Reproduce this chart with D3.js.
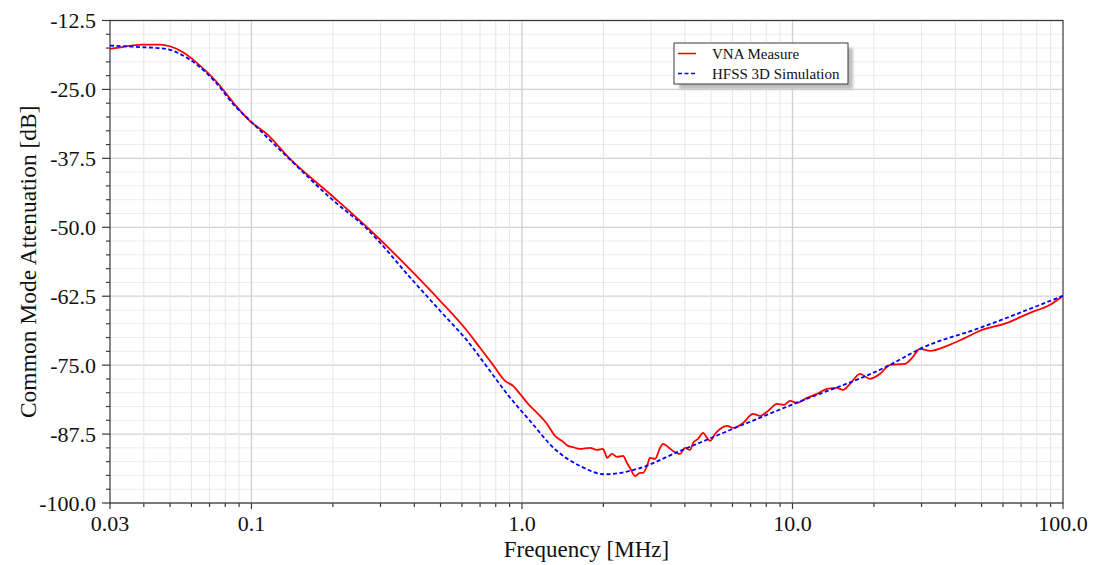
<!DOCTYPE html>
<html>
<head>
<meta charset="utf-8">
<script src="https://cdn.jsdelivr.net/npm/d3@7"></script>
<style>
  body { margin: 0; background: #fff; }
  text { font-family: "Liberation Serif", "Times New Roman", serif; fill: #111; }
</style>
</head>
<body>
<svg id="chart" width="1098" height="565"></svg>
<script>
// Measured common mode attenuation (VNA)
const vnaFreq = [0.0300, 0.03408, 0.03973, 0.04591, 0.0500, 0.05585, 0.06453, 0.07459, 0.08545, 0.09879,
  0.1142, 0.1389, 0.1952, 0.2744, 0.3956, 0.4980, 0.6263, 0.6997, 0.7816, 0.8659,
  0.9266, 0.9836, 1.053, 1.137, 1.238, 1.325, 1.406, 1.480, 1.531, 1.639,
  1.785, 1.894, 1.994, 2.028, 2.063, 2.152, 2.246, 2.364, 2.446, 2.509,
  2.618, 2.731, 2.802, 2.899, 2.974, 3.104, 3.239, 3.323, 3.467, 3.618,
  3.840, 4.007, 4.181, 4.290, 4.477, 4.671, 4.833, 4.958, 5.174, 5.398,
  5.730, 6.030, 6.565, 7.150, 7.590, 8.122, 8.768, 9.307, 9.795, 10.39,
  11.32, 12.33, 13.42, 14.61, 15.38, 16.32, 17.77, 19.35, 21.08, 22.94,
  26.07, 27.67, 29.62, 32.25, 37.27, 43.45, 49.36, 62.13, 75.53, 89.56, 100];
const vnaDb = [-17.64, -17.22, -16.86, -16.86, -17.17, -18.25, -20.67, -23.70, -27.33, -30.74,
  -33.10, -37.61, -43.96, -50.49, -58.19, -63.33, -68.77, -71.86, -74.95, -77.86,
  -78.76, -80.21, -82.03, -83.66, -85.66, -87.84, -88.74, -89.65, -89.83, -90.20,
  -90.01, -90.38, -90.20, -90.92, -91.83, -91.10, -91.65, -91.47, -92.74, -93.65,
  -95.10, -94.55, -94.55, -93.28, -91.83, -92.01, -90.01, -89.29, -89.83, -90.56,
  -91.10, -90.01, -90.38, -89.11, -88.38, -87.29, -88.20, -88.74, -87.47, -86.57,
  -86.02, -86.38, -85.48, -83.84, -84.20, -83.30, -82.03, -82.21, -81.48, -81.85,
  -80.94, -80.21, -79.31, -79.12, -79.49, -78.40, -76.58, -77.49, -76.58, -74.95,
  -74.77, -73.68, -72.04, -72.40, -71.50, -70.05, -68.77, -67.32, -65.51, -64.05, -62.42];

// Simulated common mode attenuation (HFSS 3D)
const hfssFreq = [0.0300, 0.03973, 0.04591, 0.0500, 0.05585, 0.06453, 0.07459, 0.08545, 0.09879, 0.1389,
  0.1952, 0.2675, 0.3956, 0.4980, 0.6427, 0.7427, 0.9033, 1.071, 1.325, 1.639,
  2.028, 2.662, 3.840, 5.398, 6.399, 10.05, 22.94, 29.62, 49.36, 100];
const hfssDb = [-17.04, -17.35, -17.53, -17.82, -18.85, -20.98, -23.99, -27.62, -30.65, -37.73,
  -44.63, -50.31, -59.70, -65.14, -71.20, -75.32, -80.88, -85.11, -90.25, -93.28,
  -94.79, -93.83, -90.56, -87.53, -86.02, -82.08, -74.95, -72.04, -68.23, -62.42];

const xTickValues = [0.03, 0.1, 1, 10, 100];
const xTickLabels = ["0.03", "0.1", "1.0", "10.0", "100.0"];
const yTickValues = [-100, -87.5, -75, -62.5, -50, -37.5, -25, -12.5];
const yTickLabels = ["-100.0", "-87.5", "-75.0", "-62.5", "-50.0", "-37.5", "-25.0", "-12.5"];
const seriesNames = ["VNA Measure", "HFSS 3D Simulation"];
const seriesColors = ["#ff0000", "#0000ff"];

const margin = { left: 110, right: 1063, top: 20.5, bottom: 503 };
const svg = d3.select("#chart");

const x = d3.scaleLog().domain([0.03, 100]).range([margin.left, margin.right]);
const y = d3.scaleLinear().domain([-100, -12.5]).range([margin.bottom, margin.top]);

// minor/major frequency grid positions (1..9 per decade)
const xMinor = [];
[0.01, 0.1, 1, 10].forEach(dec => {
  for (let k = 1; k <= 9; k++) {
    const v = +(k * dec).toPrecision(3);
    if (v > 0.03 && v < 100) xMinor.push(v);
  }
});
const xMajor = [0.1, 1, 10];
const yMinor = d3.range(-100, -12.5 + 1e-9, 2.5);
const isMajorY = d => Math.abs((d + 100) % 12.5) < 1e-6;

const grid = svg.append("g");
grid.selectAll(".hmin").data(yMinor).join("line")
  .attr("x1", margin.left).attr("x2", margin.right)
  .attr("y1", d => y(d)).attr("y2", d => y(d))
  .attr("stroke", d => (isMajorY(d) ? "#d2d2d2" : "#ececec"))
  .attr("stroke-width", d => (isMajorY(d) ? 1.3 : 1));
grid.selectAll(".vmin").data(xMinor).join("line")
  .attr("x1", d => x(d)).attr("x2", d => x(d))
  .attr("y1", margin.top).attr("y2", margin.bottom)
  .attr("stroke", d => (xMajor.includes(d) ? "#cfcfcf" : "#e6e6e6"))
  .attr("stroke-width", d => (xMajor.includes(d) ? 1.3 : 1));

// plot frame
svg.append("rect")
  .attr("x", margin.left).attr("y", margin.top)
  .attr("width", margin.right - margin.left).attr("height", margin.bottom - margin.top)
  .attr("fill", "none").attr("stroke", "#3a3a3a").attr("stroke-width", 1.2);

// y axis ticks and labels
const yAxis = svg.append("g");
yAxis.selectAll("line").data(yMinor).join("line")
  .attr("x1", d => margin.left - (isMajorY(d) ? 8 : 4)).attr("x2", margin.left)
  .attr("y1", d => y(d)).attr("y2", d => y(d))
  .attr("stroke", "#3a3a3a").attr("stroke-width", 1.2);
yAxis.selectAll("text").data(yTickValues).join("text")
  .attr("x", 96).attr("y", d => y(d)).attr("dy", "0.35em")
  .attr("text-anchor", "end").attr("font-size", 22)
  .text((d, i) => yTickLabels[i]);

// x axis ticks and labels
const xAxis = svg.append("g");
xAxis.selectAll("line").data([0.03].concat(xMinor, [100])).join("line")
  .attr("x1", d => x(d)).attr("x2", d => x(d))
  .attr("y1", margin.bottom)
  .attr("y2", d => margin.bottom + (xTickValues.includes(d) ? 6 : 4))
  .attr("stroke", "#3a3a3a").attr("stroke-width", 1.2);
xAxis.selectAll("text").data(xTickValues).join("text")
  .attr("x", d => x(d)).attr("y", 531)
  .attr("text-anchor", "middle").attr("font-size", 22)
  .text((d, i) => xTickLabels[i]);

// axis titles
svg.append("text")
  .attr("x", (margin.left + margin.right) / 2).attr("y", 557)
  .attr("text-anchor", "middle").attr("font-size", 23)
  .text("Frequency [MHz]");
svg.append("text")
  .attr("transform", `translate(36,${(margin.top + margin.bottom) / 2}) rotate(-90)`)
  .attr("text-anchor", "middle").attr("font-size", 23.5)
  .text("Common Mode Attenuation [dB]");

// curves
svg.append("clipPath").attr("id", "plotClip").append("rect")
  .attr("x", margin.left).attr("y", margin.top)
  .attr("width", margin.right - margin.left).attr("height", margin.bottom - margin.top);

const line = d3.line().x(d => x(d[0])).y(d => y(d[1])).curve(d3.curveMonotoneX);
const plot = svg.append("g").attr("clip-path", "url(#plotClip)");

const hfss = hfssFreq.map((f, i) => [f, hfssDb[i]]);
const vna = vnaFreq.map((f, i) => [f, vnaDb[i]]);

plot.append("path").datum(vna)
  .attr("d", line)
  .attr("fill", "none").attr("stroke", seriesColors[0]).attr("stroke-width", 1.8)
  .attr("stroke-linejoin", "round");
plot.append("path").datum(hfss)
  .attr("d", line)
  .attr("fill", "none").attr("stroke", seriesColors[1]).attr("stroke-width", 1.8)
  .attr("stroke-dasharray", "4,2.5");

// legend
const defs = svg.append("defs");
defs.append("filter").attr("id", "legendShadow").attr("x", "-10%").attr("y", "-20%")
  .attr("width", "130%").attr("height", "150%")
  .append("feGaussianBlur").attr("stdDeviation", 1.5);

const lg = svg.append("g").attr("transform", "translate(674,43)");
lg.append("rect").attr("x", 5).attr("y", 5).attr("width", 174).attr("height", 41)
  .attr("fill", "#bdbdbd").attr("filter", "url(#legendShadow)");
lg.append("rect").attr("x", 0).attr("y", 0).attr("width", 174).attr("height", 41)
  .attr("fill", "#fff").attr("stroke", "#3a3a3a").attr("stroke-width", 1);
seriesNames.forEach((name, i) => {
  const yy = 10.5 + i * 20;
  lg.append("line").attr("x1", 4).attr("x2", 22).attr("y1", yy).attr("y2", yy)
    .attr("stroke", seriesColors[i]).attr("stroke-width", 1.5)
    .attr("stroke-dasharray", i === 1 ? "4,2.5" : null);
  lg.append("text").attr("x", 38).attr("y", yy).attr("dy", "0.35em")
    .attr("font-size", 15).text(name);
});
</script>
</body>
</html>
